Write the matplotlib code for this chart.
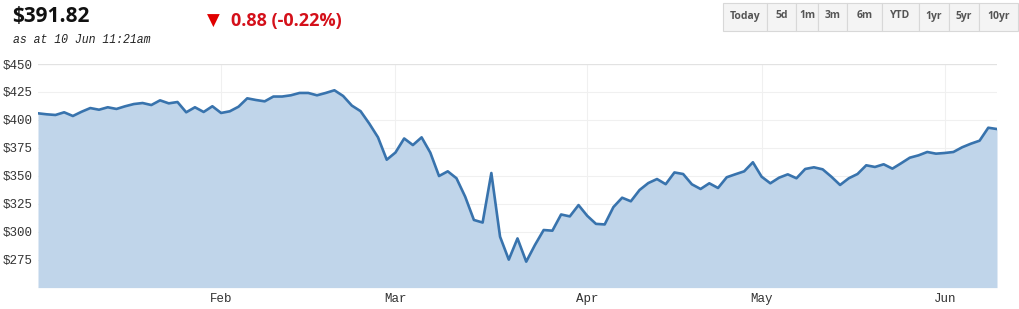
import numpy as np
import pandas as pd
import matplotlib.pyplot as plt
from matplotlib.patches import Rectangle

# ASX trading days, 2 Jan - 10 Jun 2020
holidays = ["2020-01-27", "2020-04-10", "2020-04-13", "2020-06-08"]
days = pd.bdate_range("2020-01-02", "2020-06-10")
days = days[~days.isin(pd.to_datetime(holidays))]

prices = [
    405.9, 405.0, 404.4, 406.8, 403.5, 407.3, 410.6, 409.1, 411.3, 409.8,
    412.2, 414.2, 415.1, 413.3, 417.5, 414.8, 416.0, 406.8, 411.3, 407.1,
    412.2, 406.2, 407.7, 411.8, 419.3, 417.8, 416.6, 420.9, 420.9, 422.0,
    424.1, 424.1, 422.0, 424.1, 426.5, 421.4, 412.8, 407.8, 396.7, 384.4,
    364.4, 370.8, 383.4, 377.5, 384.4, 370.7, 349.8, 354.0, 347.8, 331.3,
    310.5, 308.2, 352.5, 295.5, 275.0, 294.0, 273.2, 288.1, 301.5, 300.9,
    315.4, 313.7, 323.8, 314.2, 307.0, 306.5, 322.0, 330.4, 327.2, 337.3,
    343.5, 347.1, 342.5, 353.0, 351.6, 342.4, 338.2, 343.3, 339.1, 348.7,
    351.4, 354.0, 362.1, 349.2, 343.3, 348.3, 351.3, 347.8, 356.1, 357.6,
    355.8, 349.2, 341.8, 347.8, 351.6, 359.4, 357.9, 360.3, 356.4, 361.2,
    366.2, 368.3, 371.3, 369.8, 370.4, 371.3, 375.5, 378.7, 381.4, 393.0,
    391.82,
]

last_price = "$391.82"
change_text = "0.88 (-0.22%)"
as_at = "as at 10 Jun 11:21am"
y_ticks = [275, 300, 325, 350, 375, 400, 425, 450]
buttons = ["Today", "5d", "1m", "3m", "6m", "YTD", "1yr", "5yr", "10yr"]
button_edges = [723, 767, 796, 818, 847, 882, 919, 949, 979, 1018]

W, H = 1019, 309
fig = plt.figure(figsize=(W / 100, H / 100), dpi=100)


def fx(px):
    return px / W


def fy(py):
    return 1 - py / H


ax = fig.add_axes([fx(38), fy(287.6), (997 - 38) / W, (287.6 - 64) / H])

x = np.arange(len(prices))
ax.fill_between(x, prices, 250, color="#c0d5ea", lw=0, zorder=2)
ax.plot(x, prices, color="#3873ad", lw=1.9, solid_joinstyle="round", zorder=3)

ax.set_xlim(0, len(prices) - 1)
ax.set_ylim(250, 450)

# first trading day of each month after January
month_pos = [i for i in range(1, len(days)) if days[i].month != days[i - 1].month]
ax.set_xticks(month_pos)
ax.set_xticklabels([days[i].strftime("%b") for i in month_pos])
ax.set_yticks(y_ticks)
ax.set_yticklabels([f"${v}" for v in y_ticks])

for v in range(250, 451, 25):
    ax.axhline(v, color="#f0f0f0", lw=0.8, zorder=1)
for p in month_pos:
    ax.axvline(p, color="#f0f0f0", lw=0.8, zorder=1)
ax.axhline(450, color="#e2e2e2", lw=0.9, zorder=1)

for s in ax.spines.values():
    s.set_visible(False)
ax.tick_params(length=0, colors="#333333", labelsize=9)
ax.tick_params(axis="y", pad=4)
ax.tick_params(axis="x", pad=4)
for lab in ax.get_xticklabels() + ax.get_yticklabels():
    lab.set_fontfamily("Liberation Mono")

# header
fig.text(fx(12), fy(17), last_price, fontsize=15, fontweight="bold",
         family="Open Sans", color="#111111", va="center", ha="left")
fig.text(fx(13), fy(40), as_at, fontsize=8.3, style="italic",
         family="Liberation Mono", color="#222222", va="center", ha="left")
fig.text(fx(207), fy(21), "▼", fontsize=12, family="DejaVu Sans",
         color="#e00000", va="center", ha="left")
fig.text(fx(231), fy(21), change_text, fontsize=13, fontweight="bold",
         family="Open Sans", color="#d4101a", va="center", ha="left")

# range buttons
for label, x0, x1 in zip(buttons, button_edges[:-1], button_edges[1:]):
    rect = Rectangle((fx(x0), fy(31)), fx(x1 - x0), (31 - 3) / H,
                     transform=fig.transFigure, facecolor="#f4f4f4",
                     edgecolor="#d8d8d8", lw=0.8)
    fig.add_artist(rect)
    fig.text(fx((x0 + x1) / 2), fy(16), label, fontsize=7.5,
             fontweight="bold", family="Open Sans", color="#555555",
             ha="center", va="center")

fig.savefig("out.png", dpi=100)
